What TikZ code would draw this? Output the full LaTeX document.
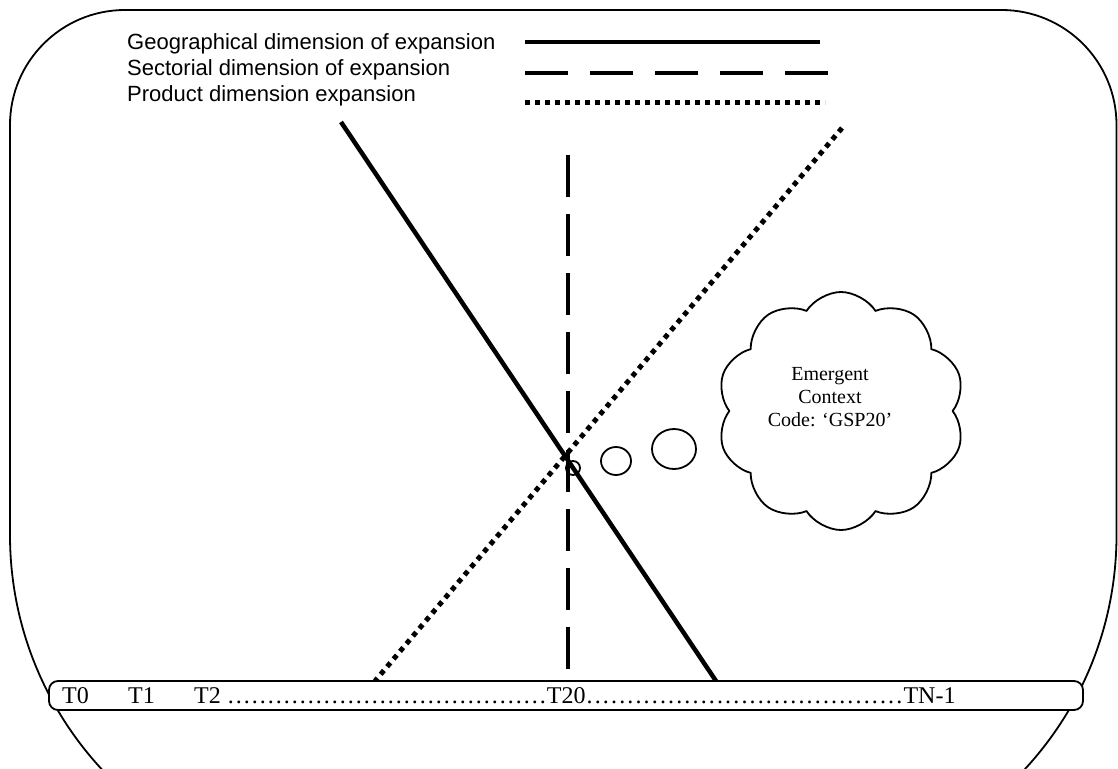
\documentclass[tikz,border=0pt]{standalone}
\usepackage{fontspec}
\setmainfont{Liberation Serif}
\newfontfamily\arialfont{Liberation Sans}
\usetikzlibrary{shapes.symbols,shapes.geometric}
\newcommand{\dotrun}[1]{\makebox[#1]{\xleaders\hbox to 8pt{\hss.\hss}\hfill}}

\begin{document}
\begin{tikzpicture}[x=1pt, y=-1pt, line join=round,
	geo/.style={line width=4.5pt},
	sect/.style={line width=4.5pt, dash pattern=on 42pt off 17pt},
	prod/.style={line width=5pt, dash pattern=on 5pt off 5pt},
	legtext/.style={font=\arialfont\fontsize{22}{25.5}\selectfont, anchor=base west, inner sep=0pt},
	tlabel/.style={font=\fontsize{24}{28}\selectfont, anchor=base west, inner sep=0pt},
	bubble/.style={draw, ellipse, line width=1.8pt, inner sep=0pt}]
	
	\useasboundingbox (0,0) rectangle (1118,768);
	
	% Khung ngoài
	\draw[line width=1.8pt] (10,535) -- (10,125) arc (180:270:115) -- (1001.5,10)
	arc (270:360:115) -- (1116.5,535) arc (0:90:345) -- (355,880) arc (90:180:345) -- cycle;
	
	% Chú thích
	\node[legtext] (leggeo) at (127,50) {Geographical dimension of expansion};
	\node[legtext] (legsect) at (127,75.5) {Sectorial dimension of expansion};
	\node[legtext] (legprod) at (127,101) {Product dimension expansion};
	
	\coordinate (gA) at (525,42);
	\coordinate (gB) at (820,42);
	\coordinate (sA) at (525,73);
	\coordinate (sB) at (828,73);
	\coordinate (pA) at (525,102);
	\coordinate (pB) at (825,102);
	\draw[geo] (gA) -- (gB);
	\draw[sect, dash pattern=on 43pt off 22pt] (sA) -- (sB);
	\draw[prod] (pA) -- (pB);
	
	% Các bong bóng
	\node[bubble, minimum width=14pt, minimum height=14pt] (bubA) at (573,468) {};
	\node[bubble, minimum width=30pt, minimum height=28pt] (bubB) at (616,461) {};
	\node[bubble, minimum width=44pt, minimum height=40pt] (bubC) at (674,449) {};
	
	% Ba đường mở rộng
	\coordinate (geoTop) at (341,122);
	\coordinate (geoBot) at (716,681);
	\coordinate (sectTop) at (568,155);
	\coordinate (sectBot) at (568,681);
	\coordinate (prodTop) at (842,128);
	\coordinate (prodBot) at (375,681);
	\draw[geo] (geoTop) -- (geoBot);
	\draw[sect] (sectTop) -- (sectBot);
	\draw[prod] (prodTop) -- (prodBot);
	
	% Đám mây
	\node[cloud, draw, line width=1.8pt, cloud puffs=10, cloud puff arc=115, aspect=1,
	minimum width=248pt, minimum height=238pt] (cloudbox) at (841,411) {};
	\node[align=center, font=\fontsize{20}{23}\selectfont] (cloudtext) at (830,397)
	{Emergent\\Context\\Code: ‘GSP20’};
	
	% Trục thời gian
	\node[draw, fill=white, rounded corners=9pt, line width=1.8pt, inner sep=0pt,
	minimum width=1034pt, minimum height=29pt] (timebox) at (566,695.5) {};
	\node[tlabel] (tzero) at (62,703) {T0};
	\node[tlabel] (tone) at (128,703) {T1};
	\node[tlabel] (trest) at (194,703) {T2 \dotrun{320pt}T20\dotrun{318pt}TN-1};
	
\end{tikzpicture}
\end{document}
